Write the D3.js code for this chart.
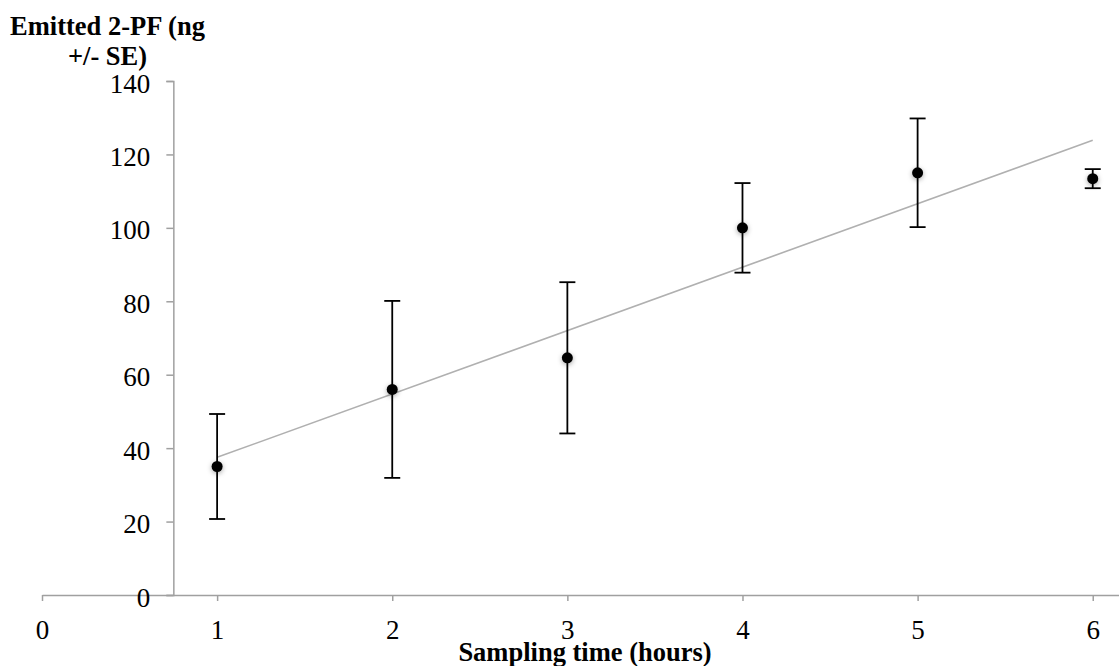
<!DOCTYPE html>
<html>
<head>
<meta charset="utf-8">
<script src="https://cdn.jsdelivr.net/npm/d3@7/dist/d3.min.js"></script>
<style>
  body { margin: 0; background: #fff; }
  text { font-family: "Liberation Serif", "Times New Roman", serif; }
</style>
</head>
<body>
<svg id="chart" width="1119" height="666"></svg>
<script>
// sampling times (hours)
const hours = [1, 2, 3, 4, 5, 6];
// emitted 2-PF (ng), mean and standard error
const emitted = [35, 56, 64.6, 100, 115, 113.4];
const stdErr = [14.3, 24.1, 20.6, 12.2, 14.8, 2.6];
const xTicks = [0, 1, 2, 3, 4, 5, 6];
const yTicks = [0, 20, 40, 60, 80, 100, 120, 140];

const svg = d3.select("#chart");
const axisColor = "#a0a0a0";
const tickFont = 27;

const x = d3.scaleLinear().domain([0, 6.15]).range([42, 1119]);
const y = d3.scaleLinear().domain([0, 140]).range([595, 81]);
const yAxisAt = 0.75; // where the value axis crosses

const defs = svg.append("defs");
const shadow = defs.append("filter").attr("id", "shadow")
  .attr("x", "-100%").attr("y", "-100%").attr("width", "300%").attr("height", "300%");
shadow.append("feDropShadow")
  .attr("dx", 0).attr("dy", 1.5).attr("stdDeviation", 2.5)
  .attr("flood-color", "#000").attr("flood-opacity", 0.35);

// x axis
const xAxis = svg.append("g")
  .attr("transform", `translate(0,${y(0)})`)
  .call(d3.axisBottom(x).tickValues(xTicks).tickFormat(d3.format("d"))
    .tickSizeInner(6).tickSizeOuter(0).tickPadding(19));
xAxis.select(".domain").attr("stroke", axisColor).attr("stroke-width", 1.5);
xAxis.selectAll(".tick line").attr("stroke", axisColor).attr("stroke-width", 1.5);
xAxis.selectAll(".tick text").attr("font-size", tickFont).attr("fill", "#000")
  .style("font-family", '"Liberation Serif", serif');

// y axis
const yAxis = svg.append("g")
  .attr("transform", `translate(${x(yAxisAt)},0)`)
  .call(d3.axisLeft(y).tickValues(yTicks)
    .tickSizeInner(7).tickSizeOuter(7).tickPadding(16));
yAxis.select(".domain").attr("stroke", axisColor).attr("stroke-width", 1.5);
yAxis.selectAll(".tick line").attr("stroke", axisColor).attr("stroke-width", 1.5);
yAxis.selectAll(".tick text").attr("font-size", tickFont).attr("fill", "#000")
  .attr("dy", "0.41em")
  .style("font-family", '"Liberation Serif", serif');

// linear trendline (least squares)
const mx = d3.mean(hours), my = d3.mean(emitted);
const slope = d3.sum(hours, (h, i) => (h - mx) * (emitted[i] - my)) /
  d3.sum(hours, (h) => (h - mx) * (h - mx));
const icpt = my - slope * mx;
const x0 = d3.min(hours), x1 = d3.max(hours);
svg.append("line")
  .attr("x1", x(x0)).attr("y1", y(icpt + slope * x0))
  .attr("x2", x(x1)).attr("y2", y(icpt + slope * x1))
  .attr("stroke", "#b0b0b0").attr("stroke-width", 1.6);

// error bars
const pts = hours.map((h, i) => ({ h, v: emitted[i], se: stdErr[i] }));
const bars = svg.append("g").attr("class", "errbars")
  .selectAll("g").data(pts).enter().append("g")
  .attr("stroke", "#000").attr("stroke-width", 1.8);
bars.append("line")
  .attr("x1", (d) => x(d.h)).attr("x2", (d) => x(d.h))
  .attr("y1", (d) => y(d.v + d.se)).attr("y2", (d) => y(d.v - d.se));
bars.append("line")
  .attr("x1", (d) => x(d.h) - 8).attr("x2", (d) => x(d.h) + 8)
  .attr("y1", (d) => y(d.v + d.se)).attr("y2", (d) => y(d.v + d.se));
bars.append("line")
  .attr("x1", (d) => x(d.h) - 8).attr("x2", (d) => x(d.h) + 8)
  .attr("y1", (d) => y(d.v - d.se)).attr("y2", (d) => y(d.v - d.se));

// markers
svg.append("g").selectAll("circle").data(pts).enter().append("circle")
  .attr("cx", (d) => x(d.h)).attr("cy", (d) => y(d.v))
  .attr("r", 5.5).attr("fill", "#000")
  .attr("filter", "url(#shadow)");

// axis titles
const yTitle = svg.append("text")
  .attr("text-anchor", "middle").attr("font-weight", "bold").attr("font-size", 26.5);
yTitle.append("tspan").attr("x", 107.5).attr("y", 35).text("Emitted 2-PF (ng");
yTitle.append("tspan").attr("x", 107.5).attr("y", 65).text("+/- SE)");

svg.append("text")
  .attr("x", 585).attr("y", 661)
  .attr("text-anchor", "middle").attr("font-weight", "bold").attr("font-size", 26.5)
  .text("Sampling time (hours)");
</script>
</body>
</html>
